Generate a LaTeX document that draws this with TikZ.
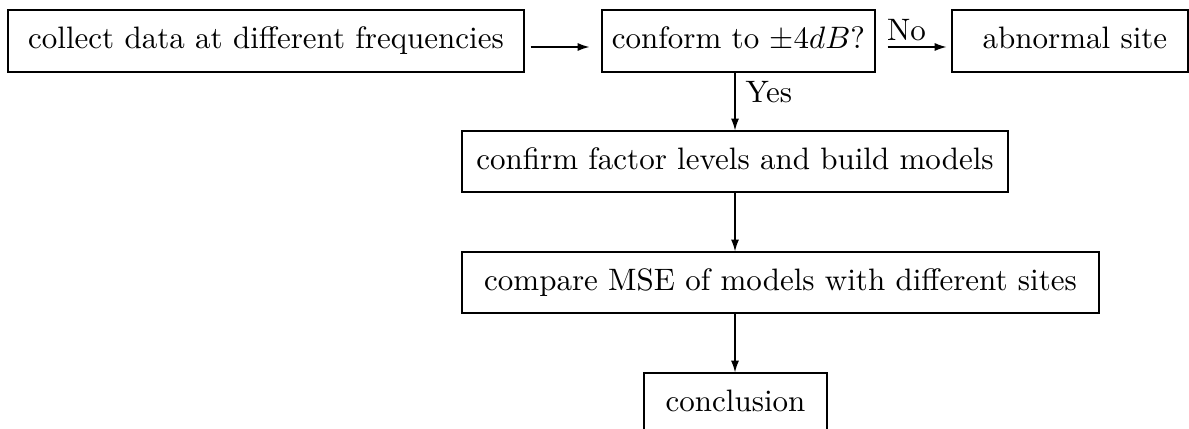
\documentclass[tikz,border=0pt]{standalone}
\usetikzlibrary{arrows.meta}
\begin{document}
\begin{tikzpicture}[x=0.32258pt,y=-0.32258pt,
  box/.style={draw, inner sep=0pt, text height=6.94pt, text depth=1.94pt,
              minimum height=20pt},
  link/.style={-{Latex[length=3.8pt,width=2.6pt]}},
  tag/.style={inner sep=0pt}]
\useasboundingbox (0,0) rectangle (1189,429);
\clip (0,0) rectangle (1189,429);

% process boxes
\node[box, minimum width=166.45pt] (collect) at (266,41)
  {collect data at different frequencies};
\node[box, minimum width=88.06pt] (conform) at (738.5,41)
  {conform to $\pm 4dB$?};
\node[box, minimum width=76.1pt] (abnormal) at (1070,41)
  {\hspace*{3.2pt}abnormal site};
\node[box, minimum width=176.1pt, minimum height=19.7pt] (confirm) at (735,161.5)
  {confirm factor levels and build models};
\node[box, minimum width=205.5pt, minimum height=19.7pt] (compare) at (780.5,282.5)
  {compare MSE of models with different sites};
\node[box, minimum width=59pt] (conclusion) at (735.5,404)
  {conclusion};

% connectors
\draw[link] ([shift={(6,6)}]collect.east) -- ([shift={(-12,6)}]conform.west);
\draw[link] ([shift={(12,6)}]conform.east) --
  node[tag, pos=0.32, above=1.8pt] {No}
  ([shift={(-5,6)}]abnormal.west);
\draw[link] (conform.south -| confirm.north) --
  node[tag, pos=0.51, anchor=base west, xshift=3.2pt] {Yes}
  (confirm.north);
\draw[link] (confirm.south) -- (confirm.south |- compare.north);
\draw[link] (confirm.south |- compare.south) -- (conclusion.north -| confirm.south);
\end{tikzpicture}
\end{document}
